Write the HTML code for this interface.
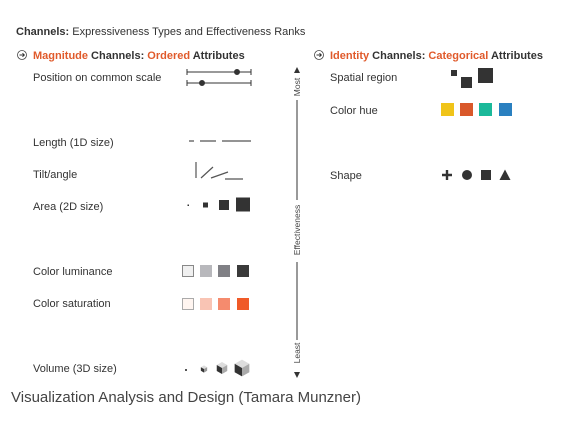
<!DOCTYPE html>
<html><head><meta charset="utf-8">
<style>
html,body{margin:0;padding:0;background:#fff;width:580px;height:422px;overflow:hidden}
svg{display:block;font-family:"Liberation Sans",sans-serif}
</style></head>
<body>
<svg width="580" height="422" viewBox="0 0 580 422">
  <text x="16" y="35" font-size="11" fill="#333"><tspan font-weight="bold">Channels:</tspan> Expressiveness Types and Effectiveness Ranks</text>

  <!-- Magnitude header -->
  <g>
    <circle cx="22" cy="55" r="4.5" fill="none" stroke="#444" stroke-width="0.8"/>
    <path d="M19.5 55 H24 M22.5 53.3 L24.3 55 L22.5 56.7" fill="none" stroke="#333" stroke-width="1"/>
    <text x="33" y="59" font-size="11" font-weight="bold" fill="#333"><tspan fill="#e05a2b">Magnitude</tspan> Channels: <tspan fill="#e05a2b">Ordered</tspan> Attributes</text>
  </g>

  <g font-size="11" fill="#333">
    <text x="33" y="81">Position on common scale</text>
    <text x="33" y="146">Length (1D size)</text>
    <text x="33" y="178">Tilt/angle</text>
    <text x="33" y="210">Area (2D size)</text>
    <text x="33" y="275">Color luminance</text>
    <text x="33" y="307">Color saturation</text>
    <text x="33" y="372">Volume (3D size)</text>
  </g>

  <!-- position -->
  <g stroke="#333" stroke-width="1">
    <path d="M187 72 H251 M187 69 V75 M251 69 V75 M187 83 H251 M187 80 V86 M251 80 V86"/>
    <circle cx="237" cy="72" r="2.5" fill="#333"/>
    <circle cx="202" cy="83" r="2.5" fill="#333"/>
  </g>
  <!-- length -->
  <g stroke="#555" stroke-width="1.3">
    <path d="M189 141 H194 M200 141 H216 M222 141 H251"/>
  </g>
  <!-- tilt -->
  <g stroke="#555" stroke-width="1.2">
    <path d="M196 162 V178 M201 178 L213 167 M211 178 L228 172 M225 179 H243"/>
  </g>
  <!-- area -->
  <g fill="#333">
    <rect x="187.5" y="204.5" width="1.5" height="1.5"/>
    <rect x="203" y="202.5" width="5" height="5"/>
    <rect x="219" y="200" width="10" height="10"/>
    <rect x="236" y="197.5" width="14" height="14"/>
  </g>
  <!-- luminance -->
  <g>
    <rect x="182.5" y="265.5" width="11" height="11" fill="#f0f0f0" stroke="#888"/>
    <rect x="200" y="265" width="12" height="12" fill="#b8b8bc"/>
    <rect x="218" y="265" width="12" height="12" fill="#808085"/>
    <rect x="237" y="265" width="12" height="12" fill="#3a3a3a"/>
  </g>
  <!-- saturation -->
  <g>
    <rect x="182.5" y="298.5" width="11" height="11" fill="#fff5f0" stroke="#aaa"/>
    <rect x="200" y="298" width="12" height="12" fill="#f9c4b4"/>
    <rect x="218" y="298" width="12" height="12" fill="#f58b6e"/>
    <rect x="237" y="298" width="12" height="12" fill="#f05a28"/>
  </g>
  <!-- volume cubes -->
  <g>
    <rect x="185" y="369" width="2" height="2" fill="#555"/>
    <g transform="translate(204,369) scale(0.45)">
      <path d="M0 -8 L7 -4 L0 0 L-7 -4Z" fill="#ddd"/><path d="M-7 -4 L0 0 L0 8 L-7 4Z" fill="#333"/><path d="M7 -4 L0 0 L0 8 L7 4Z" fill="#999"/>
    </g>
    <g transform="translate(222,368) scale(0.75)">
      <path d="M0 -8 L7 -4 L0 0 L-7 -4Z" fill="#ddd"/><path d="M-7 -4 L0 0 L0 8 L-7 4Z" fill="#333"/><path d="M7 -4 L0 0 L0 8 L7 4Z" fill="#aaa"/>
    </g>
    <g transform="translate(242,368) scale(1.05)">
      <path d="M0 -8 L7 -4 L0 0 L-7 -4Z" fill="#ddd"/><path d="M-7 -4 L0 0 L0 8 L-7 4Z" fill="#333"/><path d="M7 -4 L0 0 L0 8 L7 4Z" fill="#aaa"/>
    </g>
  </g>

  <!-- effectiveness axis -->
  <g fill="#333">
    <path d="M297 67 L300 73 L294 73Z"/>
    <path d="M297 378 L300 372 L294 372Z"/>
    <path d="M297 100 V200 M297 262 V340" stroke="#333" stroke-width="1"/>
    <text transform="translate(300,87) rotate(-90)" font-size="8.5" text-anchor="middle" fill="#444">Most</text>
    <text transform="translate(300,230) rotate(-90)" font-size="8.5" text-anchor="middle" fill="#444">Effectiveness</text>
    <text transform="translate(300,353) rotate(-90)" font-size="8.5" text-anchor="middle" fill="#444">Least</text>
  </g>

  <!-- Identity header -->
  <g>
    <circle cx="319" cy="55" r="4.5" fill="none" stroke="#444" stroke-width="0.8"/>
    <path d="M316.5 55 H321 M319.5 53.3 L321.3 55 L319.5 56.7" fill="none" stroke="#333" stroke-width="1"/>
    <text x="330" y="59" font-size="11" font-weight="bold" fill="#333"><tspan fill="#e05a2b">Identity</tspan> Channels: <tspan fill="#e05a2b">Categorical</tspan> Attributes</text>
  </g>
  <g font-size="11" fill="#333">
    <text x="330" y="81">Spatial region</text>
    <text x="330" y="114">Color hue</text>
    <text x="330" y="179">Shape</text>
  </g>
  <g fill="#333">
    <rect x="451" y="70" width="6" height="6"/>
    <rect x="461" y="77" width="11" height="11"/>
    <rect x="478" y="68" width="15" height="15"/>
  </g>
  <g>
    <rect x="441" y="103" width="13" height="13" fill="#f0c419"/>
    <rect x="460" y="103" width="13" height="13" fill="#d9582a"/>
    <rect x="479" y="103" width="13" height="13" fill="#1bb99a"/>
    <rect x="499" y="103" width="13" height="13" fill="#2a80c0"/>
  </g>
  <g fill="#333">
    <path d="M442 175 H452 M447 170 V180" stroke="#333" stroke-width="2.4"/>
    <circle cx="467" cy="175" r="5"/>
    <rect x="481" y="170" width="10" height="10"/>
    <path d="M505 169.5 L510.5 180 L499.5 180Z"/>
  </g>

  <text x="11" y="402" font-size="15" fill="#444" textLength="350" lengthAdjust="spacingAndGlyphs">Visualization Analysis and Design (Tamara Munzner)</text>
</svg>
</body></html>
